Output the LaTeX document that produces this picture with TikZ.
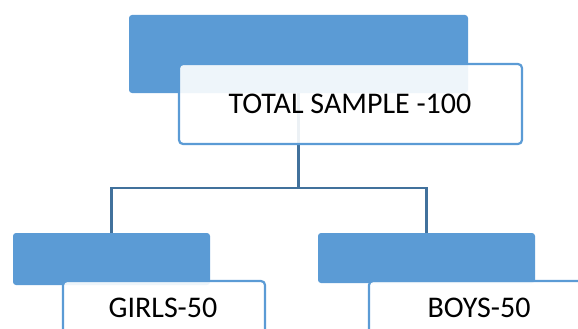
\documentclass[tikz,border=0pt]{standalone}
\usepackage{fontspec}
\setmainfont{Carlito}
\definecolor{accent}{HTML}{5B9BD5}
\definecolor{connc}{HTML}{41719C}
\begin{document}
\begin{tikzpicture}[x=1pt,y=-1pt,
  bluebox/.style={draw=none,fill=accent,rounded corners=3pt,anchor=north west,inner sep=0pt,outer sep=0pt},
  whitebox/.style={draw=accent,line width=2.2pt,fill=white,fill opacity=0.9,text opacity=1,rounded corners=4pt,anchor=north west,inner sep=0pt,outer sep=0pt},
  lbl/.style={font=\fontsize{30}{34}\selectfont,inner sep=0pt},
  conn/.style={draw=connc,line width=2.6pt}]
\useasboundingbox (0,0) rectangle (578,329);
\clip (0,0) rectangle (578,329);
% blue boxes
\node[bluebox,minimum width=339pt,minimum height=78pt] (topb) at (129,15) {};
\node[bluebox,minimum width=197pt,minimum height=52pt] (girlsb) at (13,233) {};
\node[bluebox,minimum width=217pt,minimum height=50pt] (boysb) at (318,233) {};
% connectors
\draw[conn] (topb.south) -- ++(0,95) coordinate (j) -| (girlsb.north);
\draw[conn] (j) -| (boysb.north);
% white boxes
\node[whitebox,minimum width=343pt,minimum height=80pt] (topw) at (179,64) {};
\node[lbl] (toptext) at (350,104) {TOTAL SAMPLE -100};
\node[whitebox,minimum width=202pt,minimum height=70pt] (girlsw) at (63,281) {};
\node[lbl] (girlstext) at (163,308) {GIRLS-50};
\node[whitebox,minimum width=230pt,minimum height=70pt] (boysw) at (369,281) {};
\node[lbl] (boystext) at (479,308) {BOYS-50};
\end{tikzpicture}
\end{document}
